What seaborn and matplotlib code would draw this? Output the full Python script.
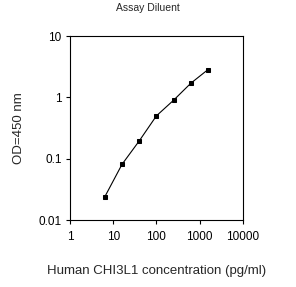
import matplotlib
matplotlib.use('Agg')
import matplotlib.pyplot as plt
import seaborn as sns
import pandas as pd
from matplotlib.ticker import FixedLocator, NullLocator, FixedFormatter

# standard curve
concentration = [6.4, 16, 40, 100, 250, 625, 1562.5]
od_450 = [0.024, 0.081, 0.195, 0.50, 0.90, 1.70, 2.84]

x_ticks = [1, 10, 100, 1000, 10000]
x_labels = ['1', '10', '100', '1000', '10000']
y_ticks = [0.01, 0.1, 1, 10]
y_labels = ['0.01', '0.1', '1', '10']

sns.set_style('white')
plt.rcParams['font.family'] = ['Liberation Sans', 'DejaVu Sans']

df = pd.DataFrame({'conc': concentration, 'od': od_450})

fig = plt.figure(figsize=(2.96, 2.87), dpi=100)
ax = fig.add_axes([0.2365, 0.2334, 0.584, 0.641])

sns.lineplot(data=df, x='conc', y='od', ax=ax, color='black', linewidth=0.8,
             marker='s', markersize=3.5, markeredgecolor='black')

ax.set_xscale('log')
ax.set_yscale('log')
ax.set_xlim(1, 10000)
ax.set_ylim(0.01, 10)

ax.xaxis.set_major_locator(FixedLocator(x_ticks))
ax.xaxis.set_major_formatter(FixedFormatter(x_labels))
ax.xaxis.set_minor_locator(NullLocator())
ax.yaxis.set_major_locator(FixedLocator(y_ticks))
ax.yaxis.set_major_formatter(FixedFormatter(y_labels))
ax.yaxis.set_minor_locator(NullLocator())

ax.tick_params(axis='both', which='major', direction='out', length=3, width=0.8,
               labelsize=8.5, bottom=True, left=True, colors='black')
ax.tick_params(axis='x', pad=5)
ax.tick_params(axis='y', pad=3)

for side in ['top', 'right', 'bottom', 'left']:
    ax.spines[side].set_color('black')
    ax.spines[side].set_linewidth(0.8)

ax.set_xlabel('Human CHI3L1 concentration (pg/ml)', fontsize=9.5, labelpad=16)
ax.set_ylabel('OD=450 nm', fontsize=9.5, labelpad=10)
fig.text(0.5, 0.99, 'Assay Diluent', ha='center', va='top', fontsize=7.5)

fig.savefig('out.png', dpi=100)
